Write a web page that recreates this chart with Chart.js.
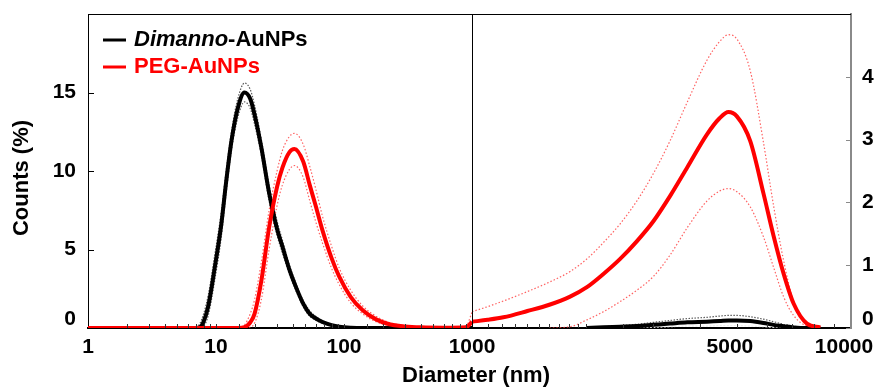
<!DOCTYPE html>
<html>
<head>
<meta charset="utf-8">
<script src="https://cdn.jsdelivr.net/npm/chart.js@4.4.1/dist/chart.umd.min.js"></script>
<style>
  html, body { margin: 0; padding: 0; background: #ffffff; }
  #wrap { position: relative; width: 880px; height: 387px; overflow: hidden; }
  #wrap canvas { position: absolute; top: 0; }
  #rightChart { left: 440px; }
  #leftChart { left: 0; }
</style>
</head>
<body>
<div id="wrap">
  <canvas id="rightChart" width="440" height="387"></canvas>
  <canvas id="leftChart" width="560" height="387"></canvas>
</div>
<script>
// ---- size distribution, 1 - 1000 nm (left panel, left axis) ----
const leftDiameters = [1, 5, 7, 7.5, 8, 8.7, 9.8, 11, 12, 13.2, 14.8, 16.7, 18.5, 20, 22.6, 26, 30, 33, 37.5, 41,
  48, 54, 60, 68, 80, 92, 113, 140, 178, 226, 300, 400, 600, 900, 1000];

const dimannoLeft = [0, 0, 0, 0.05, 0.4, 1.4, 3.9, 6.6, 9.3, 11.9, 14.0, 15.0, 14.6, 13.6, 11.5, 8.6, 6.3, 5.2, 3.7, 2.85,
  1.55, 0.9, 0.62, 0.38, 0.18, 0.08, 0.02, 0, 0, 0, 0, 0, 0, 0, 0];
const dimannoLeftUpper = [0, 0, 0.05, 0.3, 0.9, 2.1, 4.7, 7.4, 10.0, 12.5, 14.6, 15.6, 15.2, 14.2, 12.0, 9.1, 6.8, 5.6, 4.0, 3.1,
  1.75, 1.1, 0.75, 0.45, 0.22, 0.1, 0.03, 0, 0, 0, 0, 0, 0, 0, 0];
const dimannoLeftLower = [0, 0, 0, 0, 0.1, 0.8, 3.1, 5.8, 8.6, 11.3, 13.4, 14.4, 14.0, 13.0, 11.0, 8.1, 5.9, 4.8, 3.4, 2.6,
  1.35, 0.75, 0.5, 0.3, 0.14, 0.06, 0.01, 0, 0, 0, 0, 0, 0, 0, 0];

const pegLeft = [0, 0, 0, 0, 0, 0, 0, 0, 0, 0, 0, 0.05, 0.35, 0.9, 3.0, 6.4, 9.0, 10.2, 11.2, 11.4,
  10.6, 9.1, 7.8, 6.2, 4.45, 3.25, 1.97, 1.13, 0.55, 0.24, 0.1, 0.04, 0.02, 0.05, 0.4];
const pegLeftUpper = [0, 0, 0, 0, 0, 0, 0, 0, 0, 0, 0, 0.2, 0.9, 1.8, 4.2, 7.5, 10.0, 11.3, 12.2, 12.4,
  11.7, 10.3, 8.9, 7.1, 5.2, 3.8, 2.4, 1.4, 0.75, 0.35, 0.15, 0.06, 0.03, 0.15, 1.0];
const pegLeftLower = [0, 0, 0, 0, 0, 0, 0, 0, 0, 0, 0, 0, 0.05, 0.3, 1.8, 5.0, 7.8, 9.1, 10.1, 10.35,
  9.6, 8.1, 6.8, 5.4, 3.8, 2.75, 1.6, 0.9, 0.4, 0.15, 0.05, 0.02, 0, 0, 0];

// ---- size distribution, 1000 - 10000 nm (right panel, right axis) ----
const rightDiameters = [1000, 1100, 1210, 1400, 1600, 1815, 2010, 2222, 2460, 2721, 3010, 3330, 3700, 4165, 4500,
  4750, 5000, 5420, 5877, 6246, 6637, 7055, 7652, 8300, 9000, 10000];

const dimannoRight = [null, null, null, null, null, null, 0, 0.01, 0.02, 0.03, 0.05, 0.07, 0.09, 0.1, 0.11,
  0.12, 0.12, 0.11, 0.08, 0.05, 0.03, 0.01, 0, 0, null, null];
const dimannoRightUpper = [null, null, null, null, null, null, 0.01, 0.02, 0.04, 0.06, 0.09, 0.12, 0.15, 0.17, 0.19,
  0.2, 0.2, 0.18, 0.14, 0.1, 0.06, 0.03, 0.01, 0, null, null];
const dimannoRightLower = [null, null, null, null, null, null, 0, 0, 0, 0, 0.01, 0.02, 0.03, 0.03, 0.04,
  0.04, 0.04, 0.03, 0.02, 0.01, 0, 0, 0, 0, null, null];

const pegRight = [0.1, 0.13, 0.17, 0.27, 0.37, 0.5, 0.65, 0.86, 1.1, 1.38, 1.7, 2.1, 2.56, 3.08, 3.34,
  3.44, 3.37, 2.98, 2.14, 1.47, 0.87, 0.39, 0.07, 0.01, null, null];
const pegRightUpper = [0.26, 0.34, 0.43, 0.58, 0.73, 0.9, 1.1, 1.36, 1.66, 2.02, 2.46, 2.98, 3.6, 4.26, 4.56,
  4.67, 4.6, 4.1, 2.95, 1.95, 1.08, 0.42, 0.08, 0.01, null, null];
const pegRightLower = [null, null, null, null, 0, 0.02, 0.13, 0.26, 0.42, 0.6, 0.82, 1.16, 1.6, 2.02, 2.18,
  2.22, 2.17, 1.93, 1.45, 0.97, 0.5, 0.2, 0.03, 0, null, null];

// ---- tick labels and text ----
const leftXLabels = [1, 10, 100, 1000];
const rightXLabels = [5000, 10000];
const leftYTicks = [0, 5, 10, 15];
const rightYTicks = [0, 1, 2, 3, 4];
const legendEntries = [
  { italic: 'Dimanno', plain: '-AuNPs', color: '#000000' },
  { italic: '', plain: 'PEG-AuNPs', color: '#ff0000' }
];
const xTitle = 'Diameter (nm)';
const yTitle = 'Counts (%)';

const FONT = "'Liberation Sans', Arial, Helvetica, sans-serif";
const BLACK = '#000000';
const RED = '#ff0000';
const BLACK_BAND = 'rgba(50,50,50,0.8)';
const RED_BAND = 'rgba(255,45,45,0.75)';

const hasValue = (list, v) => list.some(l => Math.abs(l - v) < 1e-6 * Math.max(1, l));
const toPoints = (xs, ys) => xs.map((x, i) => ({ x: x, y: ys[i] }));

function series(label, xs, ys, color, width, dash) {
  return {
    label: label,
    data: toPoints(xs, ys),
    borderColor: color,
    backgroundColor: color,
    borderWidth: width,
    borderDash: dash || [],
    pointRadius: 0,
    pointHoverRadius: 0,
    fill: false,
    cubicInterpolationMode: 'monotone',
    spanGaps: false
  };
}

// inward tick marks and the open frame lines of each panel
const frameTicks = {
  id: 'frameTicks',
  afterDraw(chart, args, opts) {
    const { ctx, chartArea: a } = chart;
    const xs = chart.scales.x;
    const ys = chart.scales.y;
    ctx.save();
    ctx.lineWidth = 1;
    ctx.strokeStyle = '#000000';
    // top frame line
    ctx.beginPath();
    ctx.moveTo(a.left, a.top + 0.5);
    ctx.lineTo(a.right, a.top + 0.5);
    ctx.stroke();
    if (opts.rightEdge) {
      ctx.beginPath();
      ctx.moveTo(Math.round(a.right) + 0.5, a.top);
      ctx.lineTo(Math.round(a.right) + 0.5, a.bottom);
      ctx.stroke();
    }
    // x minor / major ticks, pointing up into the plot
    ctx.strokeStyle = '#333333';
    xs.ticks.forEach(t => {
      const px = Math.round(xs.getPixelForValue(t.value)) + 0.5;
      if (px < a.left + 2 || px > a.right - 2) return;
      ctx.beginPath();
      ctx.moveTo(px, a.bottom);
      ctx.lineTo(px, a.bottom - 4);
      ctx.stroke();
    });
    // y ticks, pointing into the plot
    const onRight = ys.position === 'right';
    ctx.strokeStyle = onRight ? '#8a8a8a' : '#000000';
    ys.ticks.forEach(t => {
      if (!hasValue(opts.yTicks, t.value)) return;
      const py = Math.round(ys.getPixelForValue(t.value)) + 0.5;
      const x0 = onRight ? a.right : a.left;
      ctx.beginPath();
      ctx.moveTo(x0, py);
      ctx.lineTo(x0 + (onRight ? -5 : 6), py);
      ctx.stroke();
    });
    ctx.restore();
  }
};

// legend and the shared axis titles, drawn on the left canvas
const annotations = {
  id: 'annotations',
  afterDraw(chart) {
    const ctx = chart.ctx;
    ctx.save();
    const baselines = [46, 73];
    const markY = [40, 67];
    legendEntries.forEach((e, i) => {
      ctx.strokeStyle = e.color;
      ctx.lineWidth = 3;
      ctx.beginPath();
      ctx.moveTo(103, markY[i]);
      ctx.lineTo(126, markY[i]);
      ctx.stroke();
      ctx.fillStyle = e.color;
      ctx.textBaseline = 'alphabetic';
      ctx.textAlign = 'left';
      let x = 134;
      if (e.italic) {
        ctx.font = `italic bold 22px ${FONT}`;
        ctx.fillText(e.italic, x, baselines[i]);
        x += ctx.measureText(e.italic).width;
      }
      ctx.font = `bold 22px ${FONT}`;
      ctx.fillText(e.plain, x, baselines[i]);
    });
    // x title, centred under both panels
    ctx.fillStyle = '#000000';
    ctx.font = `bold 22px ${FONT}`;
    ctx.textAlign = 'center';
    ctx.textBaseline = 'middle';
    ctx.fillText(xTitle, 476, 376);
    // y title
    ctx.translate(22, 178);
    ctx.rotate(-Math.PI / 2);
    ctx.fillText(yTitle, 0, 0);
    ctx.restore();
  }
};

const tickFont = { family: FONT, size: 21, weight: 'bold' };
const yTickFont = { family: FONT, size: 21, weight: 'bold', lineHeight: 0.8 };

const fixedX = (scale) => { scale.height = 59; scale.paddingLeft = 0; scale.paddingRight = 0; };

new Chart(document.getElementById('leftChart'), {
  type: 'line',
  data: {
    datasets: [
      series('PEG-AuNPs', leftDiameters, pegLeft, RED, 4),
      series('Dimanno-AuNPs', leftDiameters, dimannoLeft, BLACK, 4),
      series('PEG-AuNPs upper', leftDiameters, pegLeftUpper, RED_BAND, 1.2, [1.5, 2]),
      series('PEG-AuNPs lower', leftDiameters, pegLeftLower, RED_BAND, 1.2, [1.5, 2]),
      series('Dimanno-AuNPs upper', leftDiameters, dimannoLeftUpper, BLACK_BAND, 1.2, [1.5, 1.5]),
      series('Dimanno-AuNPs lower', leftDiameters, dimannoLeftLower, BLACK_BAND, 1.2, [1.5, 1.5])
    ]
  },
  options: {
    responsive: false,
    animation: false,
    events: [],
    layout: { padding: { left: 0, right: 88, top: 14, bottom: 0 } },
    plugins: {
      legend: { display: false },
      tooltip: { enabled: false },
      frameTicks: { yTicks: leftYTicks, rightEdge: true }
    },
    scales: {
      x: {
        type: 'logarithmic',
        position: 'bottom',
        min: 1,
        max: 1000,
        grid: { display: true, drawOnChartArea: false, drawTicks: false },
        border: { display: true, color: '#000000', width: 2 },
        ticks: {
          autoSkip: false,
          maxRotation: 0,
          minRotation: 0,
          padding: 7,
          color: '#000000',
          font: tickFont,
          callback: (v) => hasValue(leftXLabels, v) ? String(v) : ''
        },
        afterFit: fixedX
      },
      y: {
        type: 'linear',
        position: 'left',
        min: 0,
        max: 20,
        grid: { display: true, drawOnChartArea: false, drawTicks: false },
        border: { display: true, color: '#000000', width: 1 },
        ticks: {
          stepSize: 5,
          padding: 12,
          color: '#000000',
          font: yTickFont,
          callback: (v) => v === 0 ? ['0', ''] : (hasValue(leftYTicks, v) ? String(v) : '')
        },
        afterFit: (scale) => { scale.width = 88; scale.paddingTop = 0; scale.paddingBottom = 0; }
      }
    }
  },
  plugins: [frameTicks, annotations]
});

new Chart(document.getElementById('rightChart'), {
  type: 'line',
  data: {
    datasets: [
      series('PEG-AuNPs', rightDiameters, pegRight, RED, 4),
      series('Dimanno-AuNPs', rightDiameters, dimannoRight, BLACK, 4),
      series('PEG-AuNPs upper', rightDiameters, pegRightUpper, RED_BAND, 1.2, [1.5, 2]),
      series('PEG-AuNPs lower', rightDiameters, pegRightLower, RED_BAND, 1.2, [1.5, 2]),
      series('Dimanno-AuNPs upper', rightDiameters, dimannoRightUpper, BLACK_BAND, 1.2, [1.5, 1.5]),
      series('Dimanno-AuNPs lower', rightDiameters, dimannoRightLower, 'rgba(235,235,235,0.9)', 1.2, [2, 1.5])
    ]
  },
  options: {
    responsive: false,
    animation: false,
    events: [],
    layout: { padding: { left: 32, right: 0, top: 14, bottom: 0 } },
    plugins: {
      legend: { display: false },
      tooltip: { enabled: false },
      frameTicks: { yTicks: rightYTicks, rightEdge: false }
    },
    scales: {
      x: {
        type: 'logarithmic',
        position: 'bottom',
        min: 1000,
        max: 10000,
        grid: { display: true, drawOnChartArea: false, drawTicks: false },
        border: { display: true, color: '#000000', width: 2 },
        ticks: {
          autoSkip: false,
          maxRotation: 0,
          minRotation: 0,
          padding: 7,
          labelOffset: -7,
          color: '#000000',
          font: tickFont,
          callback: (v) => hasValue(rightXLabels, v) ? String(v) : ''
        },
        afterFit: fixedX
      },
      y: {
        type: 'linear',
        position: 'right',
        min: 0,
        max: 5,
        grid: { display: true, drawOnChartArea: false, drawTicks: false },
        border: { display: true, color: '#8a8a8a', width: 2 },
        ticks: {
          stepSize: 1,
          padding: 11,
          color: '#000000',
          font: yTickFont,
          callback: (v) => v === 0 ? ['0', ''] : (hasValue(rightYTicks, v) ? String(v) : '')
        },
        afterFit: (scale) => { scale.width = 29; scale.paddingTop = 0; scale.paddingBottom = 0; }
      }
    }
  },
  plugins: [frameTicks]
});
</script>
</body>
</html>
